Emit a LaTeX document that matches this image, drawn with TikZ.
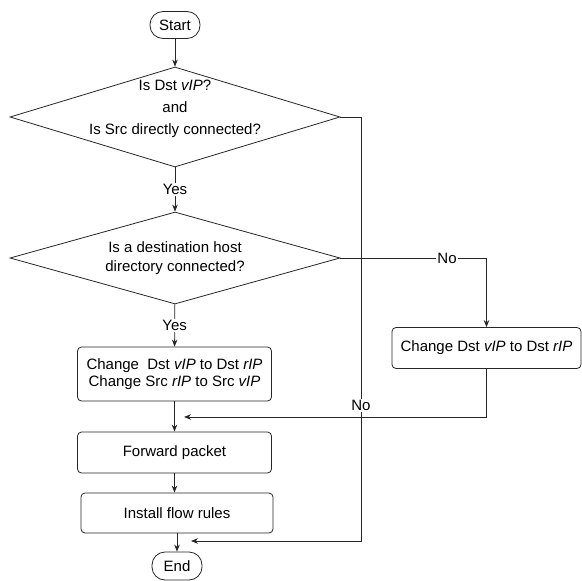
\documentclass[tikz,border=0pt]{standalone}
\usepackage{fontspec}
\setmainfont{Liberation Sans}
\usetikzlibrary{arrows.meta, shapes.geometric}
\tikzset{
    term/.style={rectangle, draw=black!85, line width=0.8pt, rounded corners=13pt, minimum width=50pt, minimum height=27pt, inner sep=0pt},
    decision/.style={diamond, draw=black!85, line width=0.8pt, minimum width=330pt, inner sep=0pt},
    dtext/.style={align=center, inner sep=0pt, font=\fontsize{15}{19.5}\selectfont},
    op/.style={rectangle, draw=black!85, line width=0.8pt, rounded corners=4pt, align=center, minimum width=194pt, inner sep=0pt},
    elabel/.style={fill=white, inner sep=1.5pt},
    arrow/.style={-{Stealth[length=7pt, width=5.5pt]}, line width=0.8pt, draw=black!85}
}
\begin{document}
\begin{tikzpicture}[x=1pt, y=-1pt, font=\fontsize{15}{17.5}\selectfont]
    \useasboundingbox (0,0) rectangle (582,581);

    % main column
    \node[term] (start) at (175,25) {Start};
    \node[decision, minimum height=100pt] (dec1) at (175,117) {};
    \node[dtext, font=\fontsize{15}{22}\selectfont] (dec1txt) at ([yshift=8pt]dec1.center) {Is Dst \textit{vIP}?\\and\\Is Src directly connected?};
    \node[decision, minimum height=92pt] (dec2) at (175,258) {};
    \node[dtext] (dec2txt) at (dec2) {Is a destination host\\directory connected?};
    \node[op, minimum height=54pt] (chg) at (174.5,374) {Change~ Dst \textit{vIP} to Dst \textit{rIP}\\Change Src \textit{rIP} to Src \textit{vIP}};
    \node[op, minimum height=41pt] (fwd) at (174.5,452.5) {Forward packet};
    \node[op, minimum height=40pt, minimum width=192pt] (inst) at (177,513) {Install flow rules};
    \node[term, minimum height=28pt] (finish) at (177,566) {End};

    % side branch
    \node[op, minimum height=41pt, minimum width=189pt] (chgR) at (486.5,348) {Change Dst \textit{vIP} to Dst \textit{rIP}};

    \coordinate (bypass) at (361,117);
    \coordinate (mergeA) at (184,417);
    \coordinate (mergeB) at (191,541);

    % connectors
    \draw[arrow] (start) -- (dec1);
    \draw[arrow] (dec1) -- node[elabel] {Yes} (dec2);
    \draw[arrow] (dec2) -- node[elabel] {Yes} (chg);
    \draw[arrow] (chg) -- (fwd);
    \draw[arrow] (fwd.south) -- (fwd.south |- inst.north);
    \draw[arrow] (inst) -- (finish);

    \draw[arrow] (dec2.east) -- node[elabel, pos=0.73] {No} (dec2.east -| chgR.north) -- (chgR.north);
    \draw[arrow] (chgR.south) |- (mergeA);
    \draw[arrow] (dec1.east) -- (bypass) -- node[elabel, pos=0.68] {No} (bypass |- mergeB) -- (mergeB);
\end{tikzpicture}
\end{document}
